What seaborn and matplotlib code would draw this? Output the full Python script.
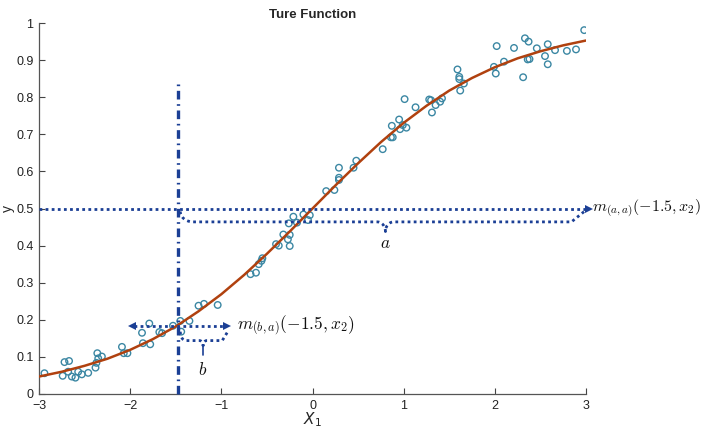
import numpy as np
import pandas as pd
import matplotlib
matplotlib.use("Agg")
import matplotlib.pyplot as plt
import seaborn as sns

# ---------------- data ----------------
curve_x = [-3.0, -2.75, -2.5, -2.25, -2.0, -1.75, -1.5, -1.25, -1.0, -0.75, -0.5, -0.25,
           0.0, 0.25, 0.5, 0.75, 1.0, 1.25, 1.5, 1.75, 2.0, 2.25, 2.5, 2.75, 3.0]
curve_y = [0.047, 0.060, 0.076, 0.095, 0.119, 0.148, 0.182, 0.223, 0.269, 0.321, 0.378, 0.438,
           0.500, 0.562, 0.622, 0.679, 0.731, 0.777, 0.818, 0.852, 0.881, 0.905, 0.924, 0.940, 0.953]

pts_x = [-2.94, -2.72, -2.67, -2.74, -2.68, -2.64, -2.60, -2.57, -2.53, -2.46, -2.38, -2.36, -2.35, -2.37, -2.31, -2.09, -2.07, -2.03,
         -1.87, -1.79, -1.86, -1.78, -1.68, -1.65, -1.53, -1.45, -1.44, -1.35, -1.25, -1.19, -1.04,
         -0.68, -0.62, -0.59, -0.56, -0.55, -0.40, -0.37, -0.32, -0.27, -0.25, -0.25, -0.26, -0.21, -0.17, -0.10, -0.05, -0.03,
         0.15, 0.24, 0.29, 0.29, 0.29, 0.45, 0.48, 0.77, 0.86, 0.88, 0.87, 0.95, 0.96, 0.99, 1.03, 1.01, 1.13,
         1.28, 1.30, 1.31, 1.35, 1.40, 1.42, 1.59, 1.61, 1.61, 1.66, 1.62,
         1.99, 2.01, 2.02, 2.10, 2.21, 2.31, 2.33, 2.37, 2.36, 2.38, 2.46, 2.55, 2.58, 2.58, 2.66, 2.79, 2.89, 2.98]
pts_y = [0.056, 0.086, 0.089, 0.049, 0.060, 0.047, 0.044, 0.060, 0.053, 0.057, 0.071, 0.110, 0.096, 0.084, 0.101, 0.127, 0.110, 0.110,
         0.165, 0.190, 0.137, 0.134, 0.167, 0.164, 0.184, 0.197, 0.168, 0.197, 0.238, 0.243, 0.240,
         0.323, 0.327, 0.350, 0.359, 0.366, 0.404, 0.400, 0.430, 0.417, 0.429, 0.399, 0.460, 0.478, 0.462, 0.484, 0.469, 0.482,
         0.547, 0.550, 0.577, 0.583, 0.610, 0.610, 0.629, 0.660, 0.692, 0.692, 0.723, 0.740, 0.714, 0.725, 0.718, 0.795, 0.773,
         0.794, 0.792, 0.759, 0.779, 0.788, 0.797, 0.875, 0.855, 0.849, 0.837, 0.818,
         0.882, 0.864, 0.938, 0.896, 0.933, 0.854, 0.959, 0.950, 0.902, 0.903, 0.932, 0.911, 0.943, 0.889, 0.927, 0.925, 0.929, 0.981]

x_ticks = [-3, -2, -1, 0, 1, 2, 3]
x_ticklabels = ["\u22123", "\u22122", "\u22121", "0", "1", "2", "3"]
y_ticks = [0, 0.1, 0.2, 0.3, 0.4, 0.5, 0.6, 0.7, 0.8, 0.9, 1.0]
y_ticklabels = ["0", "0.1", "0.2", "0.3", "0.4", "0.5", "0.6", "0.7", "0.8", "0.9", "1"]

title = "Ture Function"
x_cut = -1.47      # vertical reference line (x1 = -1.5)
y_mid = 0.5        # horizontal reference level
y_cut = 0.183      # function value at the cut

# ---------------- style ----------------
sns.set_style("white")
plt.rcParams["font.family"] = ["Liberation Sans", "DejaVu Sans"]
plt.rcParams["mathtext.fontset"] = "cm"

fig = plt.figure(figsize=(7.01, 4.29), dpi=100)
ax = fig.add_axes([0.0556, 0.0816, 0.7804, 0.8646])

ANN = "#1b3f95"

curve_df = pd.DataFrame({"x": curve_x, "y": curve_y})
pts_df = pd.DataFrame({"x": pts_x, "y": pts_y})

sns.scatterplot(data=pts_df, x="x", y="y", ax=ax, s=22, facecolors="none",
                edgecolor="#3b87a3", linewidth=1.0, zorder=3)
sns.lineplot(data=curve_df, x="x", y="y", ax=ax, color="#b0410f", linewidth=1.8,
             zorder=4, sort=False, estimator=None)

ax.set_xlim(-3, 3)
ax.set_ylim(0, 1)
ax.set_xticks(x_ticks)
ax.set_xticklabels(x_ticklabels)
ax.set_yticks(y_ticks)
ax.set_yticklabels(y_ticklabels)
ax.tick_params(axis="both", direction="in", length=4, width=0.8, labelsize=9,
               colors="#444444", labelcolor="#222222", bottom=True, left=True)
ax.tick_params(axis="x", pad=4)
ax.tick_params(axis="y", pad=4)
for s in ["top", "right"]:
    ax.spines[s].set_visible(False)
for s in ["left", "bottom"]:
    ax.spines[s].set_color("#555555")
    ax.spines[s].set_linewidth(0.9)

ax.set_title(title, fontsize=9.5, fontweight="bold", pad=4)
ax.set_xlabel(r"$X_1$", fontsize=11, math_fontfamily="dejavusans", labelpad=-1)
ax.set_ylabel("y", fontsize=10, labelpad=1)

# ---------------- annotations ----------------
# vertical dash-dot line
ax.plot([x_cut, x_cut], [0, 0.84], color=ANN, linewidth=2.4,
        linestyle=(0, (2.6, 1.4, 0.5, 1.4)), zorder=5, clip_on=False)
# horizontal dotted line with arrow head
ax.plot([-3, 3.0], [y_mid, y_mid], color=ANN, linewidth=2.0, linestyle=(0, (1, 1.2)),
        zorder=5, clip_on=False)
ax.plot([3.03], [y_mid], marker=">", markersize=6, color=ANN, clip_on=False, zorder=6,
        markeredgewidth=0)
ax.text(3.07, y_mid, r"$m_{(a,a)}(-1.5,x_2)$", fontsize=11.5, va="center", ha="left",
        color="#111111", clip_on=False)

# double arrow at the cut
ax.plot([-1.96, -0.96], [y_cut, y_cut], color=ANN, linewidth=2.0, linestyle=(0, (1, 1.2)),
        zorder=5)
ax.plot([-1.98], [y_cut], marker="<", markersize=6, color=ANN, zorder=6, markeredgewidth=0)
ax.plot([-0.94], [y_cut], marker=">", markersize=6, color=ANN, zorder=6, markeredgewidth=0)
ax.text(-0.83, y_cut, r"$m_{(b,a)}(-1.5,x_2)$", fontsize=12.5, va="center", ha="left",
        color="#111111")


def brace(x0, x1, ytop, yflat, ytip, xtip, r, r2):
    t = np.linspace(0, np.pi / 2, 20)
    xs, ys = [], []
    xs += list(x0 + r * (1 - np.cos(t)))
    ys += list(ytop - (ytop - yflat) * np.sin(t))
    xs += list(xtip - r2 + r2 * np.sin(t))
    ys += list(yflat - (yflat - ytip) * (1 - np.cos(t)))
    xs += list(xtip + r2 - r2 * np.cos(t))
    ys += list(ytip + (yflat - ytip) * np.sin(t))
    xs += list(x1 - r * np.cos(t))
    ys += list(yflat + (ytop - yflat) * (1 - np.cos(t)))
    return xs, ys


bx, by = brace(x_cut + 0.02, 2.98, 0.492, 0.464, 0.438, 0.8, 0.14, 0.09)
ax.plot(bx, by, color=ANN, linewidth=2.0, linestyle=(0, (1, 1.2)), zorder=5)
ax.text(0.8, 0.405, r"$a$", fontsize=12.5, ha="center", va="center", color="#111111")

bx, by = brace(x_cut + 0.02, -0.93, 0.168, 0.144, 0.130, -1.2, 0.06, 0.04)
ax.plot(bx, by, color=ANN, linewidth=2.0, linestyle=(0, (1, 1.2)), zorder=5)
ax.plot([-1.2, -1.2], [0.128, 0.104], color=ANN, linewidth=1.2, zorder=5)
ax.text(-1.2, 0.066, r"$b$", fontsize=12.5, ha="center", va="center", color="#111111")

fig.savefig("out.png", dpi=100)
